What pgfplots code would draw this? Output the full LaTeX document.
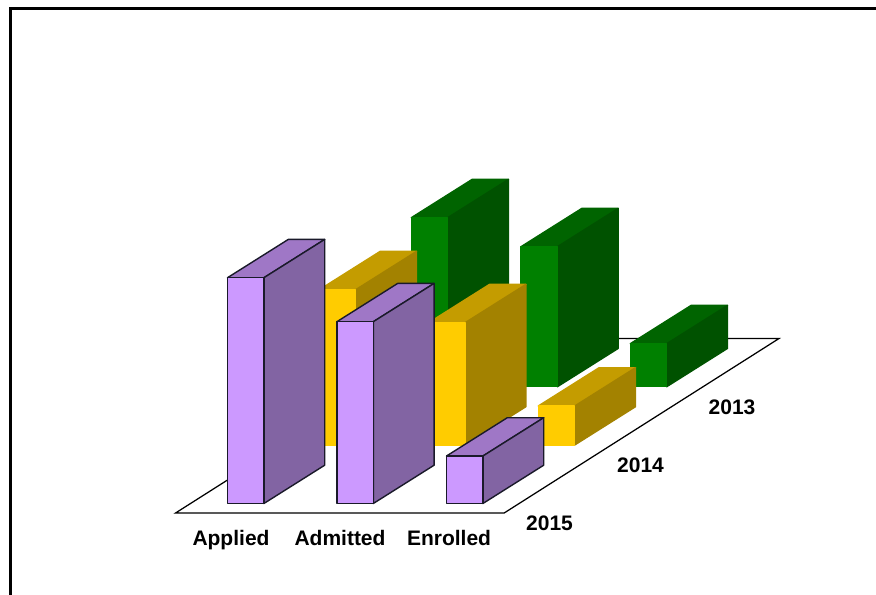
\documentclass[border=0pt]{standalone}
\usepackage{pgfplots}
\pgfplotsset{compat=1.18}
\usepackage{fontspec}
\setmainfont{Liberation Sans}
\definecolor{pF}{HTML}{CC99FF}\definecolor{pT}{HTML}{9F77C6}\definecolor{pS}{HTML}{8264A3}
\definecolor{yF}{HTML}{FFCC00}\definecolor{yT}{HTML}{C49C00}\definecolor{yS}{HTML}{A38200}
\definecolor{gF}{HTML}{008000}\definecolor{gT}{HTML}{006400}\definecolor{gS}{HTML}{005200}
\definecolor{edge}{HTML}{1A1A2A}
% one block: left x, base y, height (pixels), colours of front/top/side, edge colours of front/top/side
\newcommand{\block}[9]{%
  \pgfmathsetmacro{\xa}{#1}\pgfmathsetmacro{\xb}{#1+36.4}%
  \pgfmathsetmacro{\xc}{#1+36.4+60.8}\pgfmathsetmacro{\xd}{#1+60.8}%
  \pgfmathsetmacro{\ya}{#2}\pgfmathsetmacro{\yb}{#2-#3}%
  \pgfmathsetmacro{\yc}{#2-#3-38.3}\pgfmathsetmacro{\yd}{#2-38.3}%
  \addplot[fill=#5,draw=#8,line width=\edgew,line join=round]
    coordinates {(\xa,\yb)(\xb,\yb)(\xc,\yc)(\xd,\yc)} -- cycle;
  \addplot[fill=#6,draw=#9,line width=\edgew,line join=round]
    coordinates {(\xb,\ya)(\xb,\yb)(\xc,\yc)(\xc,\yd)} -- cycle;
  \addplot[fill=#4,draw=#7,line width=\edgew,line join=round]
    coordinates {(\xa,\ya)(\xb,\ya)(\xb,\yb)(\xa,\yb)} -- cycle;
}
\begin{document}
\begin{tikzpicture}
\useasboundingbox (0,0) rectangle (876bp,595bp);
\begin{axis}[
  at={(0,0)},anchor=south west,
  scale only axis,width=876bp,height=595bp,
  xmin=0,xmax=876,ymin=0,ymax=595,y dir=reverse,
  hide axis,clip=true]
% frame
\addplot[black,line width=3bp] coordinates {(10.6,600)(10.6,8.2)(880,8.2)};
% floor
\addplot[fill=white,draw=black,line width=1.25bp,line join=miter]
  coordinates {(175.7,512.9)(504.3,512.9)(779,338.5)(450.4,338.5)} -- cycle;
\def\edgew{0.2bp}
% 2013
\block{411.3}{386.7}{169.0}{gF}{gT}{gS}{gF}{gT}{gS}
\block{521.0}{386.7}{140.0}{gF}{gT}{gS}{gF}{gT}{gS}
\block{630.3}{386.7}{43.0}{gF}{gT}{gS}{gF}{gT}{gS}
% 2014
\block{319.3}{445.0}{155.3}{yF}{yT}{yS}{yF}{yT}{yS}
\block{428.7}{445.0}{122.3}{yF}{yT}{yS}{yF}{yT}{yS}
\block{538.3}{445.0}{39.0}{yF}{yT}{yS}{yF}{yT}{yS}
% 2015
\def\edgew{1.4bp}
\block{227.5}{503.5}{225.8}{pF}{pT}{pS}{edge}{edge}{edge}
\block{336.9}{503.5}{181.8}{pF}{pT}{pS}{edge}{edge}{edge}
\block{446.5}{503.5}{47.5}{pF}{pT}{pS}{edge}{edge}{edge}
\end{axis}
\begin{scope}[every node/.style={inner sep=0pt,font=\fontsize{21bp}{25bp}\selectfont\bfseries,text=black}]
\node[anchor=base] at (231bp,49.4bp) {Applied};
\node[anchor=base] at (340bp,49.4bp) {Admitted};
\node[anchor=base] at (449bp,49.4bp) {Enrolled};
\node[anchor=base] at (549.5bp,64.4bp) {2015};
\node[anchor=base] at (640.5bp,122.4bp) {2014};
\node[anchor=base] at (732bp,180.4bp) {2013};
\end{scope}
\end{tikzpicture}
\end{document}
